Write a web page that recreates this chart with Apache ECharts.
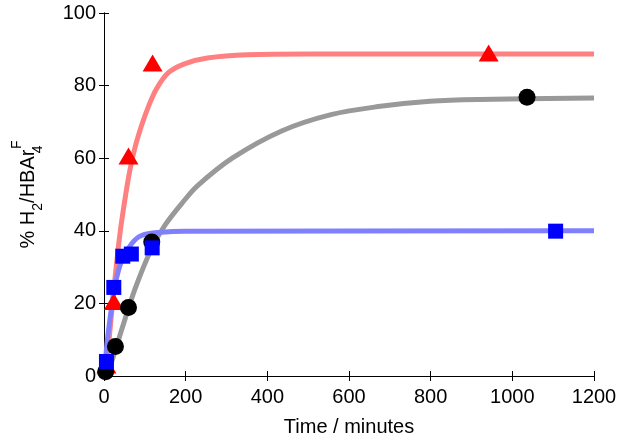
<!DOCTYPE html>
<html>
<head>
<meta charset="utf-8">
<script src="https://cdn.jsdelivr.net/npm/echarts@6/dist/echarts.min.js"></script>
<style>html,body{margin:0;padding:0;background:#fff}#c{width:624px;height:442px}</style>
</head>
<body>
<div id="c"></div>
<script>
// Measured points
const redPts = [[6, 3], [24, 20.5], [60, 60.6], [119, 86.2], [942, 89]];
const blackPts = [[4, 1.2], [28, 8.1], [60, 18.9], [117, 36.9], [1036, 76.8]];
const bluePts = [[6, 4], [24, 24.4], [46, 33], [67, 33.6], [118, 35.3], [1106, 39.9]];

// Fitted curves
const redFitT = [0, 7, 15, 27, 40, 56, 64, 76, 92, 108, 128, 157, 197, 253, 350, 500, 1200];
const redFitV = [0, 4, 13, 27, 40, 52, 57, 63, 69, 74, 79, 83.5, 86, 87.6, 88.5, 88.7, 88.7];
const grayFitT = [5, 19, 44, 76, 116, 149, 194, 230, 314, 435, 556, 677, 798, 919, 1200];
const grayFitV = [0, 4, 13, 24, 35, 41.5, 48, 52.5, 60, 67.5, 72, 74.3, 75.7, 76.2, 76.6];
const blueFitT = [0, 2, 7, 15, 27, 44, 68, 92, 140, 200, 1200];
const blueFitV = [0, 2.2, 8.6, 16, 25, 32, 36.5, 38.7, 39.6, 39.9, 40];

const xTicks = [0, 200, 400, 600, 800, 1000, 1200];
const yTicks = [0, 20, 40, 60, 80, 100];

const FONT = 'Liberation Sans, Arial, Helvetica, sans-serif';
const zip = (t, v) => t.map((x, i) => [x, v[i]]);

const chart = echarts.init(document.getElementById('c'));
const baseX = {
  type: 'value', min: xTicks[0], max: xTicks[xTicks.length - 1], interval: 200,
  splitLine: { show: false },
  axisLine: { show: true, lineStyle: { color: '#000', width: 1 } },
  axisTick: { show: true, inside: true, length: 5, lineStyle: { color: '#000' } }
};
const baseY = {
  type: 'value', min: yTicks[0], max: yTicks[yTicks.length - 1], interval: 20,
  splitLine: { show: false },
  axisLine: { show: true, lineStyle: { color: '#000', width: 1 } },
  axisTick: { show: true, inside: true, length: 5, lineStyle: { color: '#000' } }
};
chart.setOption({
  animation: false,
  backgroundColor: '#fff',
  grid: { left: 100, right: 30, top: 13, bottom: 64 },
  xAxis: [
    Object.assign({}, baseX, {
      position: 'bottom',
      name: 'Time / minutes', nameLocation: 'middle', nameGap: 41,
      nameTextStyle: { fontFamily: FONT, fontSize: 20, color: '#000' },
      axisLabel: { fontFamily: FONT, fontSize: 20, color: '#000', margin: 11, formatter: v => String(v) }
    }),
    Object.assign({}, baseX, { position: 'top', axisLabel: { show: false } })
  ],
  yAxis: [
    Object.assign({}, baseY, {
      position: 'left',
      name: '{a|% H}{sub|2}{a|/HBAr}{sub4|4}{sup|F}', nameLocation: 'middle', nameGap: 56,
      nameTextStyle: {
        fontFamily: FONT, fontSize: 20, color: '#000',
        rich: {
          a: { fontFamily: FONT, fontSize: 20, color: '#000', lineHeight: 40, verticalAlign: 'middle' },
          sub: { fontFamily: FONT, fontSize: 14, color: '#000', lineHeight: 14, verticalAlign: 'bottom', padding: [0, 0, 3, 0] },
          sub4: { fontFamily: FONT, fontSize: 14, color: '#000', lineHeight: 14, verticalAlign: 'bottom', padding: [0, 0, 3, 0], width: 0.5 },
          sup: { fontFamily: FONT, fontSize: 14, color: '#000', lineHeight: 14, verticalAlign: 'top', padding: [2, 0, 0, 0] }
        }
      },
      axisLabel: { fontFamily: FONT, fontSize: 20, color: '#000', margin: 8, formatter: v => String(v) }
    }),
    Object.assign({}, baseY, { position: 'right', axisLabel: { show: false } })
  ],
  series: [
    { type: 'line', data: zip(redFitT, redFitV), showSymbol: false, smooth: 0.35,
      lineStyle: { color: '#ff8080', width: 5 }, z: 1, silent: true },
    { type: 'line', data: zip(grayFitT, grayFitV), showSymbol: false, smooth: 0.35,
      lineStyle: { color: '#999999', width: 5 }, z: 1, silent: true },
    { type: 'line', data: zip(blueFitT, blueFitV), showSymbol: false, smooth: 0.35,
      lineStyle: { color: '#8080ff', width: 5 }, z: 1, silent: true },
    { type: 'scatter', data: redPts, symbol: 'triangle', symbolSize: [20, 17], clip: false,
      itemStyle: { color: '#ff0000', opacity: 1 }, z: 2 },
    { type: 'scatter', data: blackPts, symbol: 'circle', symbolSize: 17, clip: false,
      itemStyle: { color: '#000000', opacity: 1 }, z: 3 },
    { type: 'scatter', data: bluePts, symbol: 'rect', symbolSize: 15, clip: false,
      itemStyle: { color: '#0000ff', opacity: 1 }, z: 4 }
  ]
});
</script>
</body>
</html>
